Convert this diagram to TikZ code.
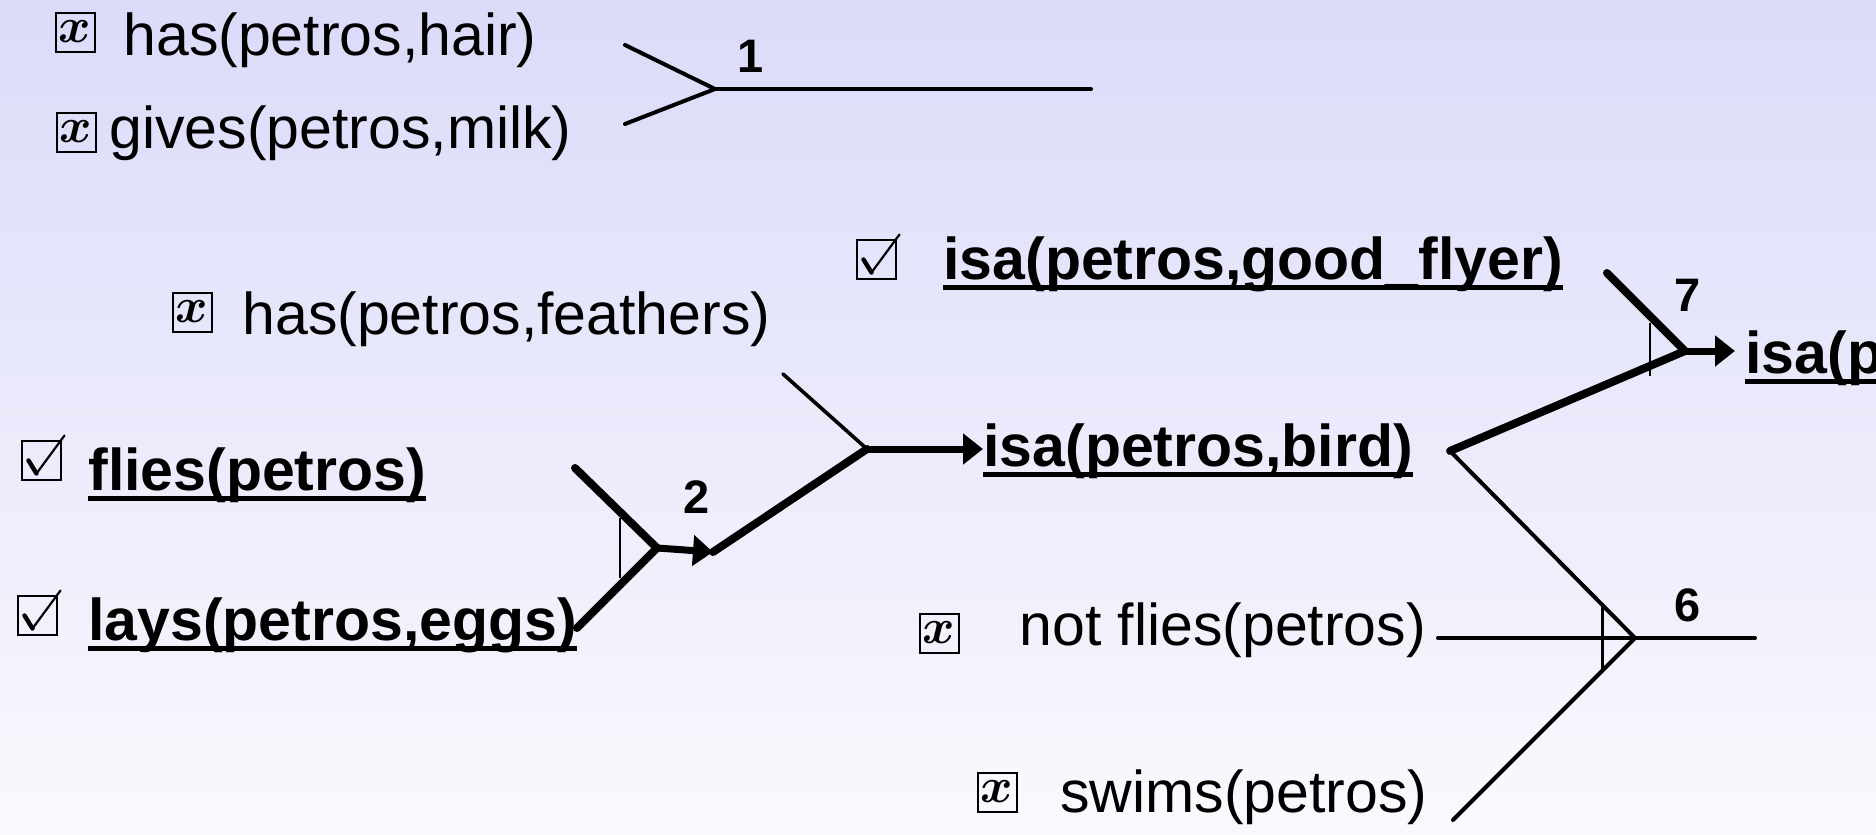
\documentclass[tikz,border=0pt]{standalone}
\usepackage{fix-cm}
\usepackage{graphicx}
\usepackage{fontspec}
\setmainfont{Liberation Sans}
\usetikzlibrary{arrows.meta,calc}

\tikzset{
  fact/.style={font=\fontsize{29.5pt}{35pt}\selectfont, inner sep=0pt, anchor=base west},
  known/.style={fact, font=\fontsize{29.5pt}{35pt}\selectfont\bfseries},
  rulenum/.style={font=\fontsize{23.5pt}{28pt}\selectfont\bfseries, inner sep=0pt},
  xbox/.style={draw, line width=1pt, minimum size=19.5pt, inner sep=0pt,
               font=\fontsize{22pt}{22pt}\selectfont\boldmath},
  cbox/.style={draw, line width=1pt, minimum size=19.5pt, inner sep=0pt},
  uline/.style={line width=2.5pt},
  heavywire/.style={line width=4pt, line cap=round, line join=round},
  lightwire/.style={line width=1.8pt, line cap=round, line join=round},
  barline/.style={line width=1pt},
  heavyarrow/.style={line width=3.5pt, line cap=round, -{Triangle[length=10pt,width=15pt]}},
}

% cross mark set inside a box node
\newcommand\crossglyph{\raisebox{-0.5pt}{\scalebox{1.12}{$x$}}}
% check mark drawn over a box node
\newcommand\drawtick[1]{%
  \draw[line width=2.2pt, line cap=round] ($(#1.north west)+(8,21)$) -- ($(#1.north west)+(16,34)$);
  \draw[line width=1.1pt, line cap=round] ($(#1.north west)+(16,34)$) -- ($(#1.north west)+(44,-4)$);
}
% underline below a text node
\newcommand\drawuline[1]{%
  \draw[uline] ($(#1.base west)+(0,8)$) -- ($(#1.base east)+(0,8)$);
}

\begin{document}
\begin{tikzpicture}[x=0.5pt, y=-0.5pt]
  \clip (0,0) rectangle (1876,835);
  \shade[top color={rgb,255:red,219;green,219;blue,250},
         bottom color={rgb,255:red,249;green,249;blue,253}] (0,0) rectangle (1876,835);

  % ---- facts ----
  \node[xbox] (bx1) at (75,32) {\crossglyph};
  \node[fact] (hair) at (123,55) {has(petros,hair)};
  \node[xbox] (bx2) at (76,132) {\crossglyph};
  \node[fact] (milk) at (109,148) {gives(petros,milk)};
  \node[xbox] (bx3) at (192,312) {\crossglyph};
  \node[fact] (feath) at (242,334) {has(petros,feathers)};

  \node[cbox] (cb1) at (41,460) {};
  \drawtick{cb1}
  \node[known] (flies) at (88,490) {flies(petros)};
  \drawuline{flies}
  \node[cbox] (cb2) at (37,615) {};
  \drawtick{cb2}
  \node[known] (eggs) at (88,640) {lays(petros,eggs)};
  \drawuline{eggs}

  \node[cbox] (cb3) at (876,259) {};
  \drawtick{cb3}
  \node[known] (flyer) at (943,279) {isa(petros,good\_flyer)};
  \drawuline{flyer}

  \node[known] (bird) at (983,466) {isa(petros,bird)};
  \drawuline{bird}
  \node[known] (concl) at (1745,373) {isa(petros};
  \drawuline{concl}

  \node[xbox] (bx4) at (939,633) {\crossglyph};
  \node[fact] (notfl) at (1019,645) {not flies(petros)};
  \node[xbox] (bx5) at (997,792) {\crossglyph};
  \node[fact] (swims) at (1060,812) {swims(petros)};

  % ---- rule labels ----
  \node[rulenum] (n1) at (751,56) {1};
  \node[rulenum] (n2) at (697,497) {2};
  \node[rulenum] (n7) at (1688,295) {7};
  \node[rulenum] (n6) at (1688,605) {6};

  % ---- rule 1 ----
  \coordinate (r1a) at (625,45);
  \coordinate (r1b) at (625,124);
  \coordinate (r1j) at (715,89);
  \coordinate (r1o) at (1091,89);
  \draw[lightwire, line width=2pt] (r1a) -- (r1j) -- (r1b);
  \draw[lightwire, line width=2pt] (r1j) -- (r1o);

  % ---- rule 2 ----
  \coordinate (r2a) at (575,468);
  \coordinate (r2b) at (577,628);
  \coordinate (r2j) at (657,548);
  \coordinate (r2o) at (713,552);
  \draw[heavywire] (r2a) -- (r2j) -- (r2b);
  \draw[barline] (620,518) -- (620,578);
  \draw[heavyarrow] (r2j) -- (r2o);

  % ---- rule to isa(petros,bird) ----
  \coordinate (r3a) at (783,374);
  \coordinate (r3j) at (867,449);
  \draw[heavywire] (r2o) -- (r3j);
  \draw[lightwire] (r3a) -- (r3j);
  \draw[heavyarrow] (r3j) -- (r3j -| bird.west);

  % ---- rule 7 ----
  \coordinate (bj) at (1450,451);
  \coordinate (r7a) at (1607,273);
  \coordinate (r7j) at (1685,351);
  \draw[heavywire] (bj) -- (r7j) -- (r7a);
  \draw[barline] (1650,323) -- (1650,376);
  \draw[heavyarrow] (r7j) -- ([xshift=-5pt]r7j -| concl.west);

  % ---- rule 6 ----
  \coordinate (r6a) at (1438,638);
  \coordinate (r6b) at (1453,820);
  \coordinate (r6j) at (1635,638);
  \coordinate (r6o) at (1755,638);
  \draw[lightwire, line width=2pt] (bj) -- (r6j) -- (r6b);
  \draw[lightwire, line width=2pt] (r6a) -- (r6o);
  \draw[barline, line width=1.5pt] (1602,603) -- (1602,670);
\end{tikzpicture}
\end{document}
